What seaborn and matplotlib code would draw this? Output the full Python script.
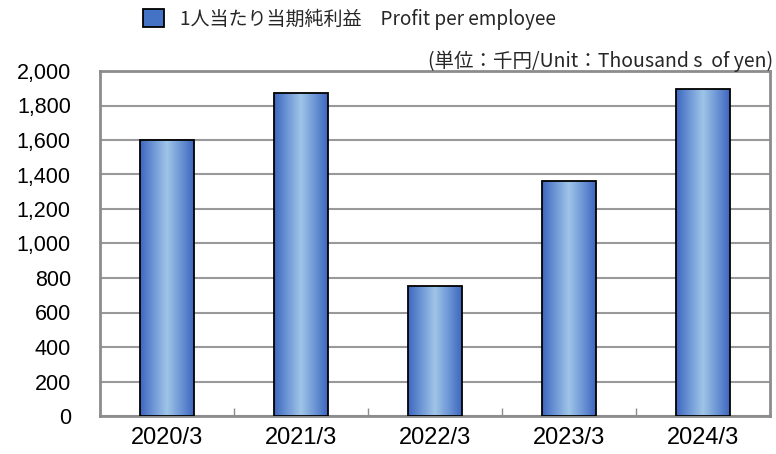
import matplotlib
matplotlib.use("Agg")
import matplotlib.pyplot as plt
import seaborn as sns
import numpy as np
import pandas as pd
from matplotlib.patches import Patch
from matplotlib.colors import LinearSegmentedColormap
from matplotlib.ticker import FuncFormatter, FixedLocator

categories = ["2020/3", "2021/3", "2022/3", "2023/3", "2024/3"]
values = [1600, 1875, 755, 1362, 1893]
series_label = "1人当たり当期純利益　Profit per employee"
unit_label = "(単位：千円/Unit：Thousand s  of yen)"
yticks = [0, 200, 400, 600, 800, 1000, 1200, 1400, 1600, 1800, 2000]

sns.set_theme(style="white")
plt.rcParams['font.family'] = ['Liberation Sans', 'Noto Sans CJK JP', 'DejaVu Sans']

df = pd.DataFrame({"year": categories, "value": values})

fig = plt.figure(figsize=(7.76, 4.54), dpi=100)
ax = fig.add_axes([100/776, 38/454, 670/776, 345/454])

sns.barplot(data=df, x="year", y="value", ax=ax, width=0.4,
            color="#4472C4", edgecolor="black", linewidth=1.3, zorder=3)

cmap = LinearSegmentedColormap.from_list(
    "grad", ["#3E66BE", "#6E97D6", "#A0C5E8", "#6E97D6", "#3E66BE"])
grad = np.linspace(0, 1, 256).reshape(1, -1)
for p in ax.patches:
    x0, y0 = p.get_x(), p.get_y()
    w, h = p.get_width(), p.get_height()
    im = ax.imshow(grad, cmap=cmap, aspect="auto",
                   extent=[x0, x0 + w, y0, y0 + h], zorder=3, interpolation="bicubic")
    im.set_clip_path(p)
    p.set_facecolor("none")
    p.set_zorder(4)

ax.set_xlim(-0.5, 4.5)
ax.set_ylim(0, 2000)
ax.set_yticks(yticks)
ax.yaxis.set_major_formatter(FuncFormatter(lambda v, pos: f"{int(v):,}"))
ax.grid(axis="y", color="#999999", linewidth=1.5, zorder=0)
ax.set_axisbelow(True)
for s in ax.spines.values():
    s.set_color("#8C8C8C")
    s.set_linewidth(2)
    s.set_visible(True)

ax.set_xlabel("")
ax.set_ylabel("")
ax.tick_params(axis="y", length=0, labelsize=15.5, pad=21, labelcolor="black")
ax.tick_params(axis="x", which="major", length=0, labelsize=17, pad=8, labelcolor="black")
ax.xaxis.set_minor_locator(FixedLocator([0.5, 1.5, 2.5, 3.5]))
ax.tick_params(axis="x", which="minor", direction="in", length=6, width=1,
               color="#8C8C8C", bottom=True)

handle = Patch(facecolor="#4472C4", edgecolor="black", linewidth=1.3)
leg = fig.legend([handle], [series_label], loc="center left",
                 bbox_to_anchor=(143/776, 1 - 19/454), frameon=False,
                 borderpad=0, borderaxespad=0,
                 prop={"family": ["Noto Sans CJK JP", "DejaVu Sans"], "size": 13.7},
                 handlelength=1.1, handleheight=1.1, handletextpad=0.84)
fig.text(773/776, 1 - 61/454, unit_label, ha="right", va="center", fontsize=14,
         family=["Noto Sans CJK JP", "DejaVu Sans"])

fig.savefig("out.png", dpi=100)
